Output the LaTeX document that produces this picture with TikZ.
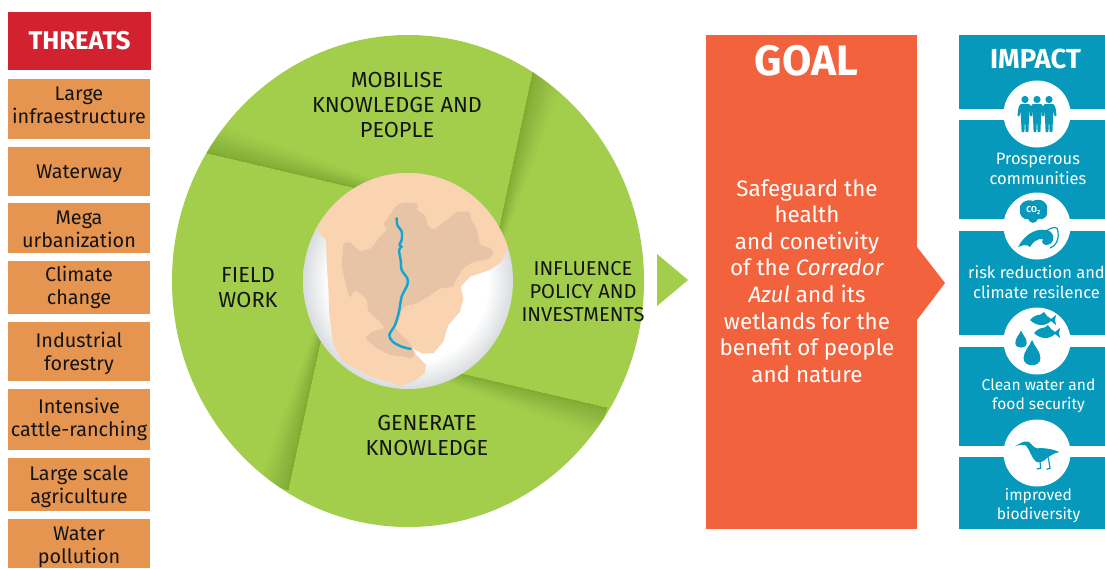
\documentclass[tikz,border=0pt]{standalone}
\usepackage{fontspec}
\setmainfont{Fira Sans}
\usetikzlibrary{calc}
\definecolor{threatred}{HTML}{D3222F}
\definecolor{threatorg}{HTML}{E69550}
\definecolor{leaf}{HTML}{A3CE4B}
\definecolor{leafdark}{HTML}{4F7A1C}
\definecolor{goalorg}{HTML}{F2623D}
\definecolor{impactblue}{HTML}{0699BC}
\definecolor{peach}{HTML}{FAD3B0}
\definecolor{basin}{HTML}{E7C4A5}
\definecolor{river}{HTML}{12A5CF}
\definecolor{globeedge}{HTML}{D9DCDF}
\definecolor{inktext}{HTML}{141414}
\pgfdeclareradialshading{globeshade}{\pgfpointorigin}{color(0bp)=(white); color(19bp)=(white); color(25bp)=(globeedge); color(50bp)=(globeedge)}
\tikzset{
  threatbox/.style={fill=threatorg,minimum width=142pt,inner sep=0pt},
  threatlabel/.style={align=center,inner sep=0pt,text=inktext,font=\fontsize{19.8}{23}\selectfont},
  impactband/.style={fill=impactblue,minimum width=146pt,inner sep=0pt},
  impacttext/.style={text=white,align=center,font=\fontsize{16.5}{19.5}\selectfont,inner sep=0pt},
  impactsmall/.style={text=white,align=center,font=\fontsize{15.6}{19}\selectfont,inner sep=0pt},
  wheeltext/.style={text=inktext,align=center,font=\fontsize{21.8}{25}\selectfont,inner sep=0pt},
  iconpaint/.style={fill=impactblue,draw=none},
  whitedisc/.style={circle,fill=white,minimum size=67pt,inner sep=0pt}
}
\newcommand{\foldshade}[4]{%
  \foreach \s in {1,...,30}{
    \pgfmathsetmacro{\t}{(\s/30)^2.4}
    \fill[leafdark,opacity=0.014] #1 -- #2 -- ($#2!\t!#4$) -- ($#1!\t!#3$) -- cycle;
  }}
\newcommand{\personicon}[1]{%
  \begin{scope}[shift={(#1)}]
    \fill[iconpaint] (0,-14.5) circle (3.6);
    \fill[iconpaint] (-4,-10) -- (4,-10) .. controls (6,-9) and (7,-6) .. (7.5,2) -- (5.5,2) -- (4.5,-3) -- (4,4) -- (3.4,18) -- (0.6,18) -- (0,5) -- (-0.6,18) -- (-3.4,18) -- (-4,4) -- (-4.5,-3) -- (-5.5,2) -- (-7.5,2) .. controls (-7,-6) and (-6,-9) .. (-4,-10) -- cycle;
  \end{scope}}
\newcommand{\fishicon}[1]{%
  \begin{scope}[shift={(#1)}]
    \fill[iconpaint] (-13,0) .. controls (-7,-7) and (2,-7) .. (8,-1) -- (13,-5) -- (12,0) -- (13,5) -- (8,1) .. controls (2,7) and (-7,6) .. (-13,0) -- cycle;
    \fill[iconpaint] (-3,-5) -- (1,-8) -- (4,-4) -- cycle;
  \end{scope}}
\newcommand{\dropicon}[2]{%
  \begin{scope}[shift={(#1)},scale=#2]
    \fill[iconpaint] (0,-10) .. controls (2,-5) and (6,-2) .. (6,3) .. controls (6,6.5) and (3,8) .. (0,8) .. controls (-3,8) and (-6,6.5) .. (-6,3) .. controls (-6,-2) and (-2,-5) .. (0,-10) -- cycle;
  \end{scope}}
\begin{document}
\begin{tikzpicture}[x=1pt,y=-1pt]
\useasboundingbox (0,0) rectangle (1105,568);
% threats column
\node[fill=threatred,minimum width=143pt,minimum height=58pt,inner sep=0pt,text=white,font=\fontsize{25.6}{28}\selectfont\bfseries] (threats) at (79.5,41) {THREATS};
\node[threatbox,minimum height=60pt] (t1) at (79,109) {};
\node[threatbox,minimum height=49pt] (t2) at (79,171.5) {};
\node[threatbox,minimum height=50pt] (t3) at (79,228) {};
\node[threatbox,minimum height=53pt] (t4) at (79,287.5) {};
\node[threatbox,minimum height=58.5pt] (t5) at (79,351.25) {};
\node[threatbox,minimum height=61.5pt] (t6) at (79,419.25) {};
\node[threatbox,minimum height=52.5pt] (t7) at (79,484.25) {};
\node[threatbox,minimum height=49pt] (t8) at (79,543.5) {};
\node[threatlabel] (t1l) at (79,105) {Large\\infraestructure};
\node[threatlabel] (t2l) at (79,173.5) {Waterway};
\node[threatlabel] (t3l) at (79,229) {Mega\\urbanization};
\node[threatlabel] (t4l) at (79,287) {Climate\\change};
\node[threatlabel] (t5l) at (79,353.5) {Industrial\\forestry};
\node[threatlabel] (t6l) at (79,419) {Intensive\\cattle-ranching};
\node[threatlabel] (t7l) at (79,486.5) {Large scale\\agriculture};
\node[threatlabel] (t8l) at (79,547.5) {Water\\pollution};
% wheel
\fill[leaf] (408,281) ellipse [x radius=236,y radius=246];
\begin{scope}
  \clip (408,281) ellipse [x radius=236,y radius=246];
  \foldshade{(533,72)}{(497,240)}{(566,78)}{(504,240)}
  \foldshade{(207,153)}{(390,196)}{(214,122)}{(390,185)}
  \foldshade{(288,490)}{(325,320)}{(258,482)}{(318,320)}
  \foldshade{(607,408)}{(440,369)}{(598,438)}{(440,380)}
\end{scope}
% globe
\shade[shading=globeshade] (408,281) ellipse [x radius=105,y radius=108];
\begin{scope}
  \clip (408,281) ellipse [x radius=105,y radius=108];
  \begin{scope}[shift={(300,165)},x=0.3333pt,y=-0.3333pt]
    \fill[peach] (0,190) -- (50,195) -- (78,225) -- (80,290) -- (85,370) -- (88,450) -- (100,540) -- (130,590) -- (200,630) -- (260,650) -- (300,662) -- (340,650) -- (375,625) -- (378,600) -- (350,570) -- (335,548) -- (365,565) -- (400,565) -- (430,530) -- (445,480) -- (480,440) -- (490,400) -- (482,365) -- (510,335) -- (570,315) -- (605,290) -- (640,220) -- (640,0) -- (0,0) -- cycle;
    \fill[basin,rounded corners=2.5pt] (285,125) -- (310,112) -- (355,115) -- (350,135) -- (375,150) -- (385,185) -- (402,195) -- (440,165) -- (470,140) -- (510,140) -- (515,170) -- (530,190) -- (540,240) -- (575,250) -- (582,268) -- (560,285) -- (520,290) -- (490,310) -- (470,340) -- (460,365) -- (420,370) -- (385,395) -- (350,415) -- (310,425) -- (295,470) -- (285,490) -- (310,515) -- (330,535) -- (345,565) -- (335,582) -- (315,575) -- (270,570) -- (230,550) -- (195,520) -- (215,500) -- (255,490) -- (240,470) -- (205,440) -- (200,400) -- (165,375) -- (150,400) -- (140,370) -- (125,300) -- (130,235) -- (150,230) -- (180,260) -- (215,250) -- (240,215) -- (265,190) -- (248,180) -- (270,150) -- cycle;
    \draw[river,line width=2.4pt,line cap=round,line join=round] plot[smooth,tension=0.5] coordinates {(290,160) (292,180) (305,200) (305,225) (298,240) (305,245) (297,255) (302,285) (305,315) (322,340) (322,360) (305,395) (297,440) (285,480) (268,510) (278,530) (305,545) (332,552)};
  \end{scope}
\end{scope}
\node[wheeltext] (mobilise) at (397,105) {MOBILISE\\KNOWLEDGE AND\\PEOPLE};
\node[wheeltext] (field) at (248,287.5) {FIELD\\WORK};
\node[wheeltext,font=\fontsize{20.1}{23}\selectfont] (influence) at (583,291.5) {INFLUENCE\\POLICY AND\\INVESTMENTS};
\node[wheeltext] (generate) at (427,435.5) {GENERATE\\KNOWLEDGE};
% green arrow
\fill[leaf] (657,254) -- (688,280) -- (657,306) -- cycle;
% goal
\fill[goalorg] (917,247) -- (945,283) -- (917,320) -- cycle;
\node[fill=goalorg,minimum width=211pt,minimum height=494pt,inner sep=0pt] (goal) at (811.5,282) {};
\node[text=white,inner sep=0pt,font=\fontsize{42.5}{45}\selectfont\bfseries] (goaltitle) at (806.5,61) {GOAL};
\node[text=white,inner sep=0pt,align=center,font=\fontsize{22.4}{26.6}\selectfont] (goaltext) at (807,281) {Safeguard the\\health\\and conetivity\\of the \textit{Corredor}\\\textit{Azul} and its\\wetlands for the\\benefit of people\\and nature};
% impact
\node[impactband,minimum height=74pt] (b1) at (1032,72) {};
\node[impactband,minimum height=99pt] (b2) at (1032,169.5) {};
\node[impactband,minimum height=104pt] (b3) at (1032,283) {};
\node[impactband,minimum height=99pt] (b4) at (1032,396.5) {};
\node[impactband,minimum height=72pt] (b5) at (1032,493) {};
\node[whitedisc] (d1) at (1037,114) {};
\node[whitedisc] (d2) at (1037,226) {};
\node[whitedisc] (d3) at (1037,341) {};
\node[whitedisc] (d4) at (1037,453) {};
\node[text=white,inner sep=0pt,font=\fontsize{27.5}{30}\selectfont\bfseries] (impact) at (1035.5,59) {IMPACT};
\node[impacttext] (i1) at (1038,169) {Prosperous\\communities};
\node[impacttext] (i2) at (1036.5,282) {risk reduction and\\climate resilence};
\node[impactsmall] (i3) at (1038.5,395.5) {Clean water and\\food security};
\node[impactsmall] (i4) at (1038.5,505.5) {improved\\biodiversity};
% icons
\personicon{1025,114}
\personicon{1049,114}
\personicon{1037,114}
% cloud + wave
\fill[iconpaint] (1020,210) .. controls (1018,204) and (1026,198) .. (1033,201) .. controls (1040,197) and (1049,203) .. (1047,210) .. controls (1049,216) and (1043,221) .. (1038,219) .. controls (1036,224) and (1030,224) .. (1028,219) .. controls (1023,220) and (1019,215) .. (1020,210) -- cycle;
\node[text=white,inner sep=0pt,font=\fontsize{8.5}{9}\selectfont\bfseries] (co2) at (1033.5,210.5) {CO\textsubscript{2}};
\fill[iconpaint] (1018,247) .. controls (1024,236) and (1034,228) .. (1046,230) .. controls (1054,231) and (1056,240) .. (1050,244) .. controls (1045,247) and (1040,243) .. (1043,239) .. controls (1037,238) and (1032,243) .. (1030,247) .. controls (1027,244) and (1023,245) .. (1018,247) -- cycle;
\draw[impactblue,line width=1.2pt] (1046,231) .. controls (1054,226) and (1058,226) .. (1058,232) .. controls (1059,240) and (1056,246) .. (1050,248);
% fish + drops
\fishicon{1043,320}
\fishicon{1047,333}
\dropicon{1021,340}{0.95}
\dropicon{1032,354}{1.4}
% bird
\begin{scope}[shift={(950,280)},x=0.3333pt,y=-0.3333pt]
  \fill[iconpaint] (195,500) .. controls (210,490) and (220,482) .. (235,485) .. controls (245,490) and (248,503) .. (262,505) .. controls (285,503) and (310,508) .. (328,516) .. controls (310,520) and (300,528) .. (290,535) .. controls (280,545) and (268,550) .. (258,545) .. controls (245,535) and (240,510) .. (228,497) .. controls (218,492) and (205,495) .. (195,500) -- cycle;
  \draw[impactblue,line width=1.2pt] (270,545) -- (272,565) -- (260,567) (295,532) -- (300,565) -- (290,568);
\end{scope}
\end{tikzpicture}
\end{document}
